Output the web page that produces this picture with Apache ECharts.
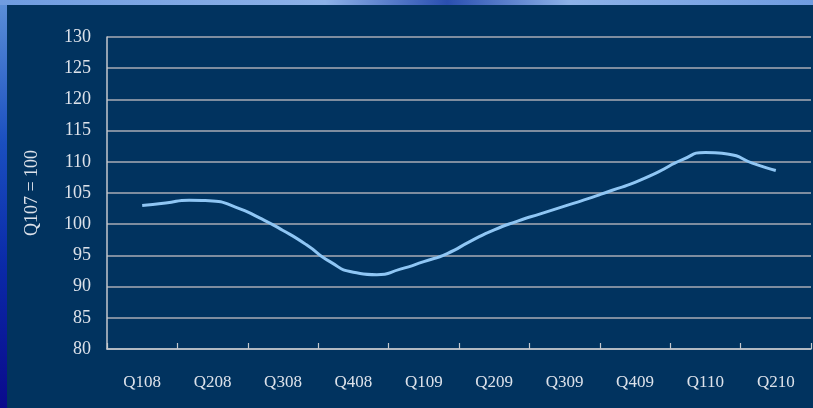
<!DOCTYPE html>
<html>
<head>
<meta charset="utf-8">
<script src="https://cdn.jsdelivr.net/npm/echarts@6/dist/echarts.min.js"></script>
<style>
  html, body { margin: 0; padding: 0; }
  body {
    width: 813px; height: 408px; overflow: hidden; position: relative;
    background: linear-gradient(180deg, #5c90d8 0%, #1a4fc0 35%, #0a2aa8 65%, #0a0a8c 100%);
  }
  #top {
    position: absolute; left: 0; top: 0; width: 813px; height: 5px;
    background: linear-gradient(90deg, #6f9ce0 0%, #8db2e8 40%, #2a4fb0 55%, #8db2e8 70%, #6f9ce0 100%);
  }
  #chart {
    position: absolute; left: 7px; top: 5px; width: 806px; height: 403px;
  }
</style>
</head>
<body>
<div id="top"></div>
<div id="chart"></div>
<script>
  let chart = echarts.init(document.getElementById('chart'));

  // quarter labels on the visible axis
  let quarters = ['Q108', 'Q208', 'Q308', 'Q408', 'Q109', 'Q209', 'Q309', 'Q409', 'Q110', 'Q210'];

  // monthly positions behind the line (Jan 08 .. Jun 10)
  let months = ['Jan08', 'Feb08', 'Mar08', 'Apr08', 'May08', 'Jun08', 'Jul08', 'Aug08', 'Sep08', 'Oct08',
    'Nov08', 'Dec08', 'Jan09', 'Feb09', 'Mar09', 'Apr09', 'May09', 'Jun09', 'Jul09', 'Aug09', 'Sep09',
    'Oct09', 'Nov09', 'Dec09', 'Jan10', 'Feb10', 'Mar10', 'Apr10', 'May10', 'Jun10'];

  // index, Q107 = 100
  let indexValues = [null, 103.0, 103.4, 103.85, 103.7, 102.7, 101.0, 99.0, 96.7, 94.0, 92.3, 91.9, 92.8,
    94.0, 95.3, 97.3, 99.1, 100.5, 101.7, 102.9, 104.1, 105.4, 106.7, 108.4, 110.3, 111.5, 111.2, 109.8,
    108.6, null];

  let textColor = '#dde2ea';
  let font = '"Liberation Serif", "DejaVu Serif", serif';

  chart.setOption({
    backgroundColor: '#01335f',
    animation: false,
    grid: { left: 100, right: 2, top: 32, bottom: 59 },
    xAxis: [
      {
        type: 'category',
        data: quarters,
        boundaryGap: true,
        axisLine: { show: true, lineStyle: { color: '#c4c8ce', width: 1.5 } },
        axisTick: { show: true, inside: true, length: 6, lineStyle: { color: '#c4c8ce', width: 1.2 } },
        axisLabel: { color: textColor, fontFamily: font, fontSize: 17, margin: 25 },
        splitLine: { show: false }
      },
      {
        type: 'category',
        data: months,
        boundaryGap: true,
        show: false
      }
    ],
    yAxis: {
      type: 'value',
      min: 80,
      max: 130,
      interval: 5,
      name: 'Q107 = 100',
      nameLocation: 'middle',
      nameGap: 66,
      nameRotate: 90,
      nameTextStyle: { color: textColor, fontFamily: font, fontSize: 18 },
      axisLine: { show: true, lineStyle: { color: '#c4c8ce', width: 1.5 } },
      axisTick: { show: false },
      axisLabel: { color: textColor, fontFamily: font, fontSize: 18, margin: 16 },
      splitLine: { show: true, lineStyle: { color: '#a9adb5', width: 1.5 } }
    },
    series: [
      {
        type: 'line',
        xAxisIndex: 1,
        data: indexValues,
        smooth: 0.6,
        showSymbol: false,
        lineStyle: { color: '#8fc6f4', width: 3 }
      }
    ]
  });
</script>
</body>
</html>
